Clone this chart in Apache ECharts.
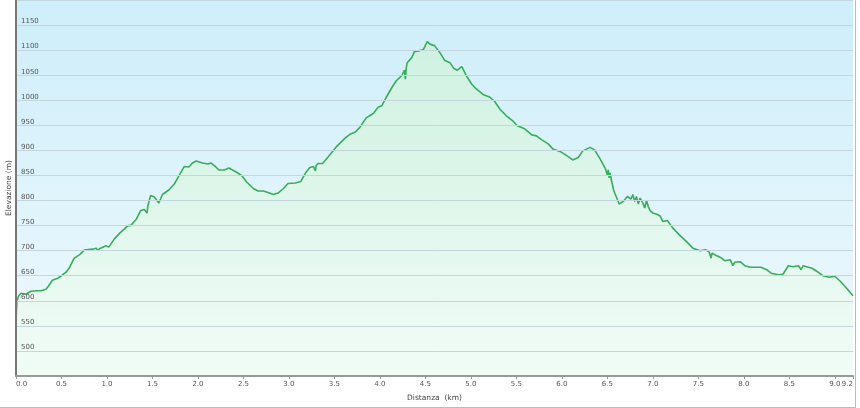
<!DOCTYPE html>
<html>
<head>
<meta charset="utf-8">
<script src="https://cdn.jsdelivr.net/npm/echarts@6/dist/echarts.min.js"></script>
<style>
  html, body { margin: 0; padding: 0; background: #ffffff; }
  #chart { width: 860px; height: 408px; }
</style>
</head>
<body>
<div id="chart"></div>
<script>
// Distance along the route (km)
const distKm = [
  0.00, 0.01, 0.03, 0.055, 0.11, 0.165, 0.22, 0.275, 0.33, 0.36,
  0.40, 0.46, 0.50, 0.55, 0.59, 0.64, 0.70, 0.75, 0.84, 0.88,
  0.90, 0.93, 0.99, 1.02, 1.08, 1.14, 1.19, 1.23, 1.26, 1.32,
  1.37, 1.41, 1.43, 1.44, 1.45, 1.48, 1.52, 1.57, 1.61, 1.68,
  1.74, 1.80, 1.85, 1.90, 1.94, 1.98, 2.05, 2.11, 2.14, 2.19,
  2.23, 2.29, 2.34, 2.42, 2.48, 2.535, 2.61, 2.66, 2.72, 2.77,
  2.83, 2.88, 2.94, 2.99, 3.07, 3.13, 3.19, 3.23, 3.27, 3.29,
  3.30, 3.32, 3.37, 3.43, 3.52, 3.62, 3.67, 3.725, 3.78, 3.85,
  3.93, 3.98, 4.02, 4.07, 4.13, 4.18, 4.24, 4.27, 4.28, 4.29,
  4.30, 4.35, 4.38, 4.44, 4.48, 4.52, 4.55, 4.57, 4.60, 4.66,
  4.71, 4.77, 4.81, 4.85, 4.90, 4.95, 5.01, 5.05, 5.14, 5.21,
  5.26, 5.32, 5.39, 5.46, 5.51, 5.59, 5.67, 5.72, 5.78, 5.80,
  5.85, 5.90, 5.98, 6.05, 6.12, 6.18, 6.23, 6.31, 6.36, 6.42,
  6.48, 6.50, 6.51, 6.52, 6.53, 6.55, 6.57, 6.63, 6.68, 6.72,
  6.74, 6.76, 6.78, 6.80, 6.82, 6.84, 6.86, 6.89, 6.91, 6.93,
  6.95, 6.97, 7.00, 7.05, 7.08, 7.11, 7.16, 7.22, 7.30, 7.37,
  7.44, 7.52, 7.58, 7.62, 7.64, 7.65, 7.68, 7.74, 7.79, 7.85,
  7.88, 7.90, 7.96, 8.01, 8.07, 8.19, 8.25, 8.30, 8.38, 8.43,
  8.49, 8.54, 8.60, 8.63, 8.65, 8.69, 8.75, 8.80, 8.87, 8.94,
  9.00, 9.06, 9.13, 9.19, 9.20
];
// Elevation (m)
const elevM = [
  560, 600, 610, 615, 613, 619, 620, 620, 623, 630,
  641, 645, 650, 657, 667, 685, 692, 701, 703, 705,
  701, 705, 710, 707, 723, 735, 743, 750, 750, 762,
  780, 782, 785, 775, 790, 810, 807, 795, 812, 821,
  833, 852, 868, 867, 875, 879, 875, 873, 875, 868,
  861, 861, 865, 857, 850, 837, 824, 819, 819, 816,
  812, 815, 824, 834, 835, 838, 857, 866, 868, 859,
  870, 874, 874, 887, 907, 925, 932, 936, 946, 965,
  974, 986, 989, 1006, 1025, 1039, 1049, 1060, 1042, 1065,
  1075, 1085, 1097, 1099, 1102, 1117, 1112, 1111, 1109, 1095,
  1080, 1075, 1064, 1060, 1067, 1049, 1032, 1024, 1011, 1006,
  998, 982, 969, 959, 949, 943, 931, 929, 921, 923,
  913, 903, 898, 890, 881, 886, 899, 906, 901, 883,
  863, 850, 861, 845, 855, 836, 820, 793, 799, 808,
  810, 803, 812, 798, 808, 793, 805, 795, 785, 800,
  788, 780, 775, 772, 769, 758, 760, 745, 730, 718,
  705, 700, 702, 697, 685, 695, 692, 687, 680, 682,
  670, 677, 678, 670, 667, 667, 662, 655, 652, 653,
  670, 668, 670, 662, 670, 668, 665, 659, 650, 647,
  649, 639, 625, 612, 610
];
const yMin = 450, yMax = 1200, yStep = 50;
const xMin = 0, xMax = 9.2, xStep = 0.5;
const xName = 'Distanza  (km)';
const yName = 'Elevazione (m)';

const points = distKm.map((d, i) => [d, elevM[i]]);
const FONT = 'DejaVu Sans';

const chart = echarts.init(document.getElementById('chart'), null, { renderer: 'canvas' });
chart.setOption({
  animation: false,
  backgroundColor: '#ffffff',
  grid: {
    left: 16, right: 7, top: 0, bottom: 32,
    containLabel: false,
    outerBoundsMode: 'none',
    show: true,
    borderWidth: 0,
    backgroundColor: new echarts.graphic.LinearGradient(0, 0, 0, 1, [
      { offset: 0, color: '#cdeefa' },
      { offset: 1, color: '#f0f9fd' }
    ])
  },
  xAxis: {
    type: 'value',
    min: xMin, max: xMax, interval: xStep,
    z: 3,
    name: xName,
    nameLocation: 'middle',
    nameGap: 18,
    nameTextStyle: { color: '#444', fontSize: 7.5, fontFamily: FONT },
    axisLine: { show: true, lineStyle: { color: '#999999', width: 2 } },
    axisTick: { show: true, length: 3, lineStyle: { color: '#999999', width: 1 } },
    splitLine: { show: false },
    axisLabel: {
      color: '#555', fontSize: 7, fontFamily: FONT, margin: 5,
      showMinLabel: true, showMaxLabel: true,
      alignMinLabel: 'left', alignMaxLabel: 'right',
      formatter: v => v.toFixed(1)
    }
  },
  yAxis: {
    type: 'value',
    min: yMin, max: yMax, interval: yStep,
    z: 3,
    name: yName,
    nameLocation: 'middle',
    nameGap: 3,
    nameMoveOverlap: false,
    nameTextStyle: { color: '#444', fontSize: 7.5, fontFamily: FONT },
    axisLine: { show: true, lineStyle: { color: '#777777', width: 2 } },
    axisTick: { show: false },
    splitLine: { show: true, lineStyle: { color: '#c3d6de', width: 1 } },
    axisLabel: {
      inside: true, margin: 5,
      color: '#555', fontSize: 7, fontFamily: FONT,
      verticalAlign: 'bottom',
      formatter: v => (v === yMin || v === yMax) ? '' : String(v)
    }
  },
  series: [{
    type: 'line',
    data: points,
    symbol: 'none',
    smooth: false,
    z: 2,
    lineStyle: { color: '#38ad5c', width: 1.6 },
    areaStyle: {
      color: new echarts.graphic.LinearGradient(0, 0, 0, 376, [
        { offset: 0, color: '#cbf0df' },
        { offset: 1, color: '#f1fcf6' }
      ], true),
      opacity: 1
    }
  }],
  graphic: [
    { type: 'line', silent: true, shape: { x1: 855.5, y1: 0, x2: 855.5, y2: 407 }, style: { stroke: '#bbbbbb', lineWidth: 1 } },
    { type: 'line', silent: true, shape: { x1: 0, y1: 407.5, x2: 856, y2: 407.5 }, style: { stroke: '#bbbbbb', lineWidth: 1 } }
  ]
});
</script>
</body>
</html>
